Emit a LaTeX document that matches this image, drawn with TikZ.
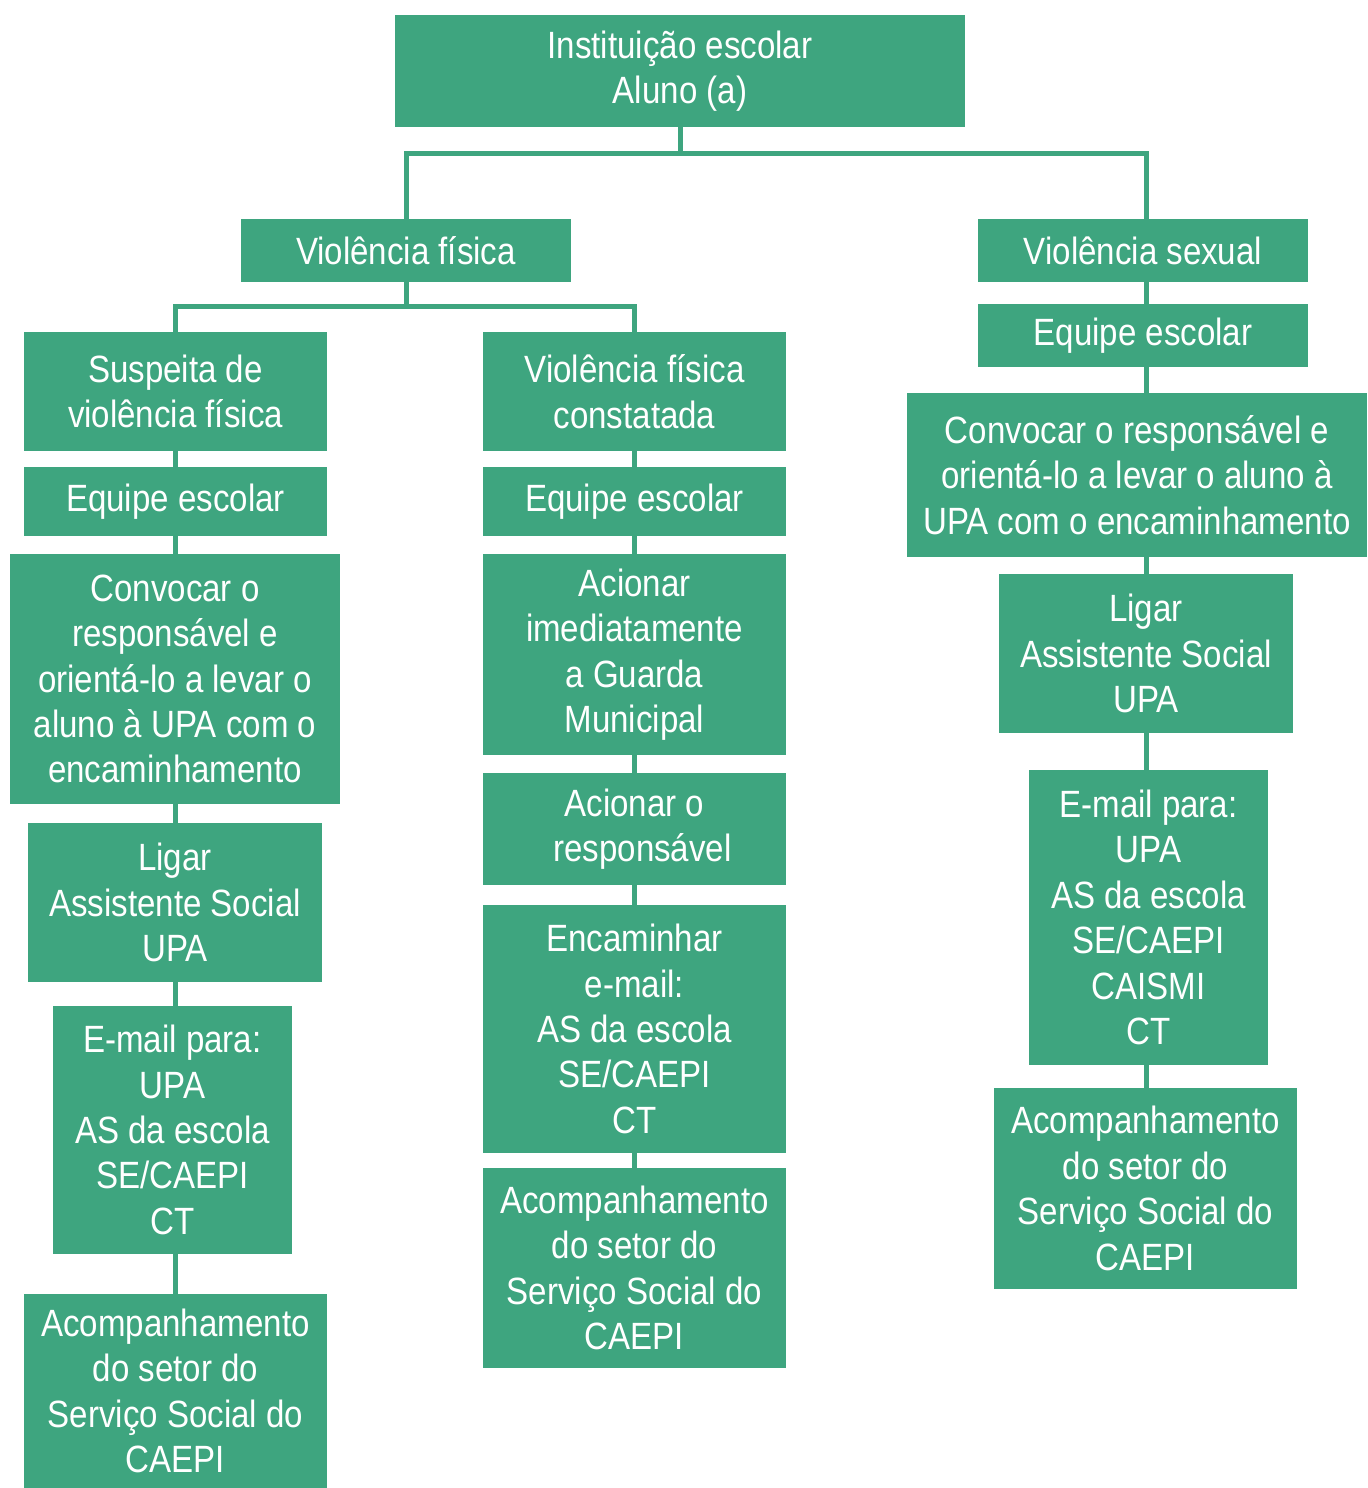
\documentclass[tikz,border=0pt]{standalone}
\usepackage{fontspec}
\setmainfont[FakeStretch=0.87]{Liberation Sans}
\definecolor{boxgreen}{HTML}{3EA57F}
\tikzset{
  gbox/.style={fill=boxgreen, draw=none, text=white, align=center, inner sep=0pt,
    font=\fontsize{19}{22.7}\selectfont, anchor=center},
  link/.style={draw=boxgreen, line width=2.5pt, line join=miter}
}
\begin{document}
\begin{tikzpicture}[x=0.5pt, y=-0.5pt]
\useasboundingbox (0,0) rectangle (1367,1488);
% column coordinates
\coordinate (xL) at (175,0);
\coordinate (xM) at (634,0);
\coordinate (xR) at (1146,0);
\coordinate (j1) at (680,153);
\coordinate (j2) at (406,306);
% top
\node[gbox, minimum width=285pt, minimum height=56pt] (top) at (680,71) {Instituição escolar\\Aluno (a)};
\node[gbox, minimum width=165pt, minimum height=31.5pt] (vf) at (406,250.5) {Violência física};
\node[gbox, minimum width=165pt, minimum height=31.5pt] (vs) at (1143,250.5) {Violência sexual};
% left column
\node[gbox, minimum width=151.5pt, minimum height=59.5pt] (L1) at (175.5,391.5) {Suspeita de\\violência física};
\node[gbox, minimum width=151.5pt, minimum height=34.5pt] (L2) at (175.5,501.5) {Equipe escolar};
\node[gbox, minimum width=165pt, minimum height=125pt] (L3) at (175,679) {Convocar o\\responsável e\\orientá-lo a levar o\\aluno à UPA com o\\encaminhamento};
\node[gbox, minimum width=147pt, minimum height=79.5pt] (L4) at (175,902.5) {Ligar\\Assistente Social\\UPA};
\node[gbox, minimum width=119.5pt, minimum height=124pt] (L5) at (172.5,1130) {E-mail para:\\UPA\\AS da escola\\SE/CAEPI\\CT};
\node[gbox, minimum width=151.5pt, minimum height=97pt] (L6) at (175.5,1391) {Acompanhamento\\do setor do\\Serviço Social do\\CAEPI};
% middle column
\node[gbox, minimum width=151.5pt, minimum height=59.5pt] (M1) at (634.5,391.5) {Violência física\\constatada};
\node[gbox, minimum width=151.5pt, minimum height=34.5pt] (M2) at (634.5,501.5) {Equipe escolar};
\node[gbox, minimum width=151.5pt, minimum height=100.5pt] (M3) at (634.5,654.5) {Acionar\\imediatamente\\a Guarda\\Municipal};
\node[gbox, minimum width=151.5pt, minimum height=56pt] (M4) at (634.5,829) {Acionar o\\\hspace*{8pt}responsável};
\node[gbox, minimum width=151.5pt, minimum height=124pt] (M5) at (634.5,1029) {Encaminhar\\e-mail:\\AS da escola\\SE/CAEPI\\CT};
\node[gbox, minimum width=151.5pt, minimum height=100pt] (M6) at (634.5,1268) {Acompanhamento\\do setor do\\Serviço Social do\\CAEPI};
% right column
\node[gbox, minimum width=165pt, minimum height=31.5pt] (R1) at (1143,335.5) {Equipe escolar};
\node[gbox, minimum width=230pt, minimum height=82pt] (R2) at (1137,475) {Convocar o responsável e\\orientá-lo a levar o aluno à\\UPA com o encaminhamento};
\node[gbox, minimum width=147pt, minimum height=79.5pt] (R3) at (1146,653.5) {Ligar\\Assistente Social\\UPA};
\node[gbox, minimum width=119.5pt, minimum height=147.5pt] (R4) at (1148.5,917.5) {E-mail para:\\UPA\\AS da escola\\SE/CAEPI\\CAISMI\\CT};
\node[gbox, minimum width=151.5pt, minimum height=100.5pt] (R5) at (1145.5,1188.5) {Acompanhamento\\do setor do\\Serviço Social do\\CAEPI};
% tree connectors
\draw[link] (top.south) -- (j1);
\draw[link] (vf.north) |- (j1) -| (vs.north -| xR);
\draw[link] (vf.south) -- (j2);
\draw[link] (L1.north -| xL) |- (j2) -| (M1.north -| xM);
% left chain
\draw[link] (L1.south -| xL) -- (L2.north -| xL);
\draw[link] (L2.south -| xL) -- (L3.north -| xL);
\draw[link] (L3.south -| xL) -- (L4.north -| xL);
\draw[link] (L4.south -| xL) -- (L5.north -| xL);
\draw[link] (L5.south -| xL) -- (L6.north -| xL);
% middle chain
\draw[link] (M1.south -| xM) -- (M2.north -| xM);
\draw[link] (M2.south -| xM) -- (M3.north -| xM);
\draw[link] (M3.south -| xM) -- (M4.north -| xM);
\draw[link] (M4.south -| xM) -- (M5.north -| xM);
\draw[link] (M5.south -| xM) -- (M6.north -| xM);
% right chain
\draw[link] (vs.south -| xR) -- (R1.north -| xR);
\draw[link] (R1.south -| xR) -- (R2.north -| xR);
\draw[link] (R2.south -| xR) -- (R3.north -| xR);
\draw[link] (R3.south -| xR) -- (R4.north -| xR);
\draw[link] (R4.south -| xR) -- (R5.north -| xR);
\end{tikzpicture}
\end{document}
